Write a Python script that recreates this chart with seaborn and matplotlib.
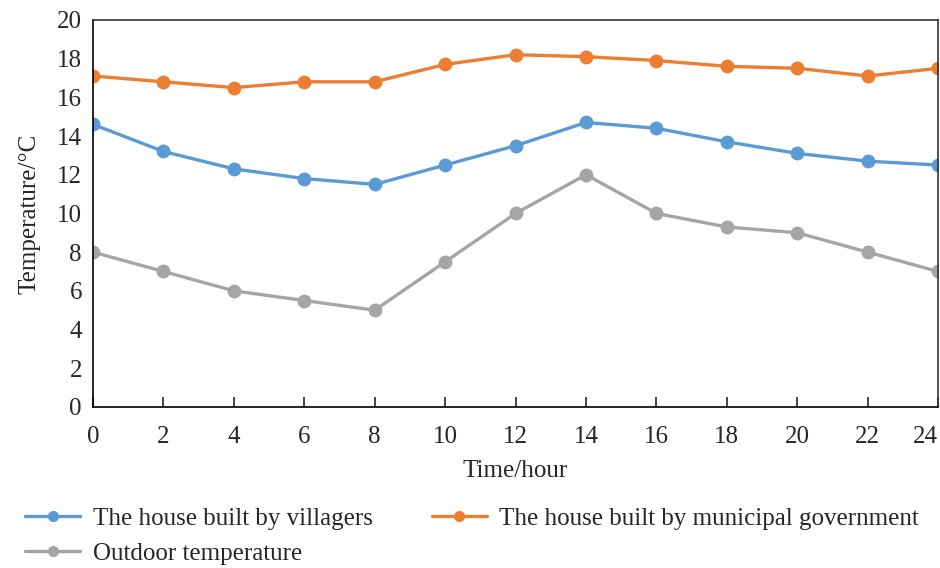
import matplotlib
matplotlib.use("Agg")
import matplotlib.pyplot as plt
import numpy as np
import pandas as pd
import seaborn as sns

# DATA
hours = [0, 2, 4, 6, 8, 10, 12, 14, 16, 18, 20, 22, 24]
villagers = [14.6, 13.2, 12.3, 11.8, 11.5, 12.5, 13.5, 14.7, 14.4, 13.7, 13.1, 12.7, 12.5]
municipal = [17.1, 16.8, 16.5, 16.8, 16.8, 17.7, 18.2, 18.1, 17.9, 17.6, 17.5, 17.1, 17.5]
outdoor = [8.0, 7.0, 6.0, 5.5, 5.0, 7.5, 10.0, 12.0, 10.0, 9.3, 9.0, 8.0, 7.0]

series_names = ["The house built by villagers",
                "The house built by municipal government",
                "Outdoor temperature"]
colors = ["#5B9BD5", "#ED7D31", "#A5A5A5"]


def main():
    sns.set_style("white")
    plt.rcParams["font.family"] = ["Liberation Serif", "DejaVu Serif"]

    df = pd.DataFrame({
        "hour": hours * 3,
        "temp": villagers + municipal + outdoor,
        "series": np.repeat(series_names, len(hours)),
    })

    fig = plt.figure(figsize=(9.4, 5.68), dpi=100)
    ax = fig.add_axes([0.099, 0.2835, 0.899, 0.6815])

    sns.lineplot(data=df, x="hour", y="temp", hue="series", hue_order=series_names,
                 palette=colors, marker="o", markersize=10, markeredgewidth=0,
                 linewidth=2.4, ax=ax, legend=False)

    ax.set_xlim(0, 24)
    ax.set_ylim(0, 20)
    ax.set_xticks(hours)
    ax.set_yticks(range(0, 21, 2))
    ax.tick_params(axis="x", direction="in", length=7, width=1.2, labelsize=18, pad=14,
                   bottom=True)
    ax.tick_params(axis="y", length=0, labelsize=18, pad=8)
    ax.get_xticklabels()[-1].set_horizontalalignment("right")
    for s in ax.spines.values():
        s.set_color("#333333")
        s.set_linewidth(1.2)
    ax.spines["left"].set_color("black")
    ax.spines["bottom"].set_color("black")
    ax.set_xlabel("Time/hour", fontsize=18, labelpad=8)
    ax.set_ylabel("Temperature/°C", fontsize=18, labelpad=12)

    handles = [plt.Line2D([], [], color=c, marker="o", markersize=7, linewidth=2.4)
               for c in colors]
    # order: column 1 = villagers, outdoor; column 2 = municipal
    order = [0, 2, 1]
    fig.legend([handles[i] for i in order], [series_names[i] for i in order],
               loc="lower left", bbox_to_anchor=(0.027, 0.006), ncol=2, frameon=False,
               fontsize=18, handlelength=2.2, columnspacing=2.35, labelspacing=0.5,
               handletextpad=0.5, borderpad=0, borderaxespad=0)

    fig.savefig("out.png", dpi=100)


if __name__ == '__main__':
    main()
